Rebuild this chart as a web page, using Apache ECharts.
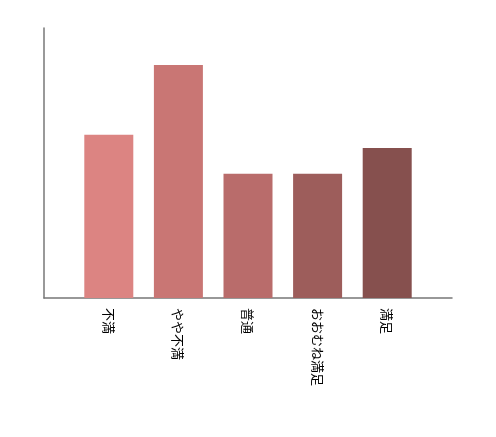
<!DOCTYPE html>
<html>
<head>
<meta charset="utf-8">
<script src="https://cdn.jsdelivr.net/npm/echarts@6/dist/echarts.min.js"></script>
<style>html,body{margin:0;padding:0;background:#fff}</style>
</head>
<body>
<div id="main" style="width:496px;height:437px;"></div>
<script>
var categories = ['不満', 'やや不満', '普通', 'おおむね満足', '満足'];
var values = [21, 30, 16, 16, 19.3];
var colors = ['#dc8482', '#c97674', '#b96c6b', '#9d5d5b', '#86504e'];

var chart = echarts.init(document.getElementById('main'));
var option = {
    animation: false,
    grid: [
        {left: 74, right: 74, top: 28, bottom: 139},
        {left: 44, right: 44, top: 28, bottom: 139}
    ],
    xAxis: [
        {
            type: 'category', gridIndex: 0, data: categories,
            axisLine: {show: false}, axisTick: {show: false},
            axisLabel: {rotate: -90, color: '#000', fontSize: 13, margin: 10,
                fontFamily: 'Noto Sans CJK JP'}
        },
        {
            type: 'value', gridIndex: 1, min: 0, max: 1,
            axisLine: {show: true, lineStyle: {color: '#777', width: 1.5}},
            axisTick: {show: false}, axisLabel: {show: false}, splitLine: {show: false}
        }
    ],
    yAxis: [
        {type: 'value', gridIndex: 0, min: 0, max: 34.75, show: false},
        {
            type: 'value', gridIndex: 1, min: 0, max: 1,
            axisLine: {show: true, lineStyle: {color: '#777', width: 1.5}},
            axisTick: {show: false}, axisLabel: {show: false}, splitLine: {show: false}
        }
    ],
    series: [{
        type: 'bar',
        xAxisIndex: 0, yAxisIndex: 0,
        barWidth: 49,
        data: values.map(function (v, i) {
            return {value: v, itemStyle: {color: colors[i]}};
        })
    }]
};
chart.setOption(option);
</script>
</body>
</html>
